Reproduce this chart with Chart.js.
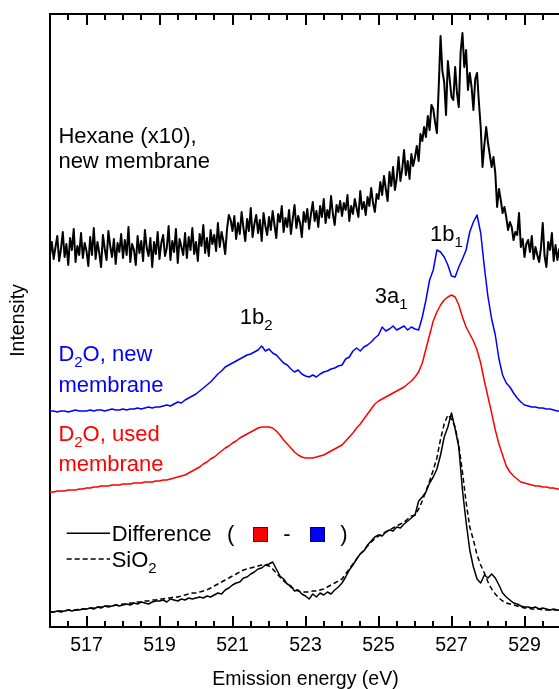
<!DOCTYPE html>
<html>
<head>
<meta charset="utf-8">
<script src="https://cdn.jsdelivr.net/npm/chart.js@4.4.1/dist/chart.umd.min.js"></script>
<style>
  html, body { margin: 0; padding: 0; overflow: hidden; background: #fff; }
  #wrap { width: 580px; height: 689px; }
</style>
</head>
<body>
<div id="wrap"><canvas id="spectra" width="580" height="689"></canvas></div>
<script>
// Emission spectra (stacked, arbitrary intensity units), energy axis in eV
const energyStartEV = 516;
const hexaneStepEV = 0.05;
const waterStepEV = 0.1;

// Hexane (x10), new membrane — sampled every 0.05 eV from 516 eV
const hexaneNew = [
  372, 385, 368, 380, 391, 366, 378, 395, 370, 383, 362, 389, 377, 398, 365, 381, 372, 394, 369, 384,
  376, 361, 390, 372, 399, 368, 385, 374, 360, 392, 378, 367, 396, 381, 370, 388, 363, 384, 375, 393,
  369, 387, 372, 400, 365, 383, 377, 362, 391, 374, 386, 366, 397, 379, 371, 389, 360, 385, 373, 395,
  368, 384, 392, 371, 379, 401, 367, 386, 375, 398, 364, 388, 380, 372, 394, 369, 390, 377, 399, 373,
  385, 366, 393, 381, 402, 374, 389, 371, 397, 383, 392, 376, 404, 380, 395, 386, 373, 398, 412, 407,
  396, 411, 388, 404, 393, 415, 399, 386, 408, 396, 419, 390, 403, 412, 394, 407, 386, 414, 401, 392,
  410, 397, 416, 402, 389, 413, 405, 421, 395, 409, 400, 417, 393, 408, 422, 399, 411, 404, 390, 415,
  405, 418, 398, 413, 425, 406, 416, 400, 421, 410, 428, 404, 417, 409, 431, 413, 402, 422, 415, 426,
  411, 424, 417, 432, 406, 421, 413, 428, 419, 410, 436, 418, 425, 412, 430, 421, 439, 424, 415, 433,
  428, 445, 432, 451, 438, 426, 455, 441, 460, 437, 449, 470, 446, 458, 477, 452, 466, 448, 473, 461,
  470, 481, 466, 493, 486, 500, 490, 511, 497, 522, 518, 505, 494, 540, 591, 556, 545, 512, 566, 548,
  530, 527, 560, 534, 520, 575, 594, 560, 577, 537, 554, 540, 517, 548, 554, 525, 500, 460, 482, 500,
  484, 472, 460, 470, 454, 420, 438, 427, 414, 420, 410, 397, 405, 400, 387, 395, 392, 414, 380, 388,
  370, 383, 387, 375, 391, 368, 380, 372, 365, 379, 404, 371, 360, 385, 377, 394, 366, 382, 367, 378,
  372
];

// D2O, new membrane — every 0.1 eV from 516 eV
const d2oNew = [
  216, 216, 215, 216, 216, 215, 216, 217, 216, 216,
  216, 217, 216, 217, 217, 216, 217, 218, 217, 217,
  218, 217, 218, 218, 219, 218, 219, 220, 219, 220,
  220, 221, 222, 221, 223, 225, 224, 227, 229, 231,
  233, 236, 239, 242, 245, 249, 253, 256, 260, 262,
  264, 266, 268, 270, 272, 273, 275, 277, 281, 276,
  278, 274, 272, 268, 264, 262, 258, 255, 257, 253,
  251, 250, 252, 250, 253, 255, 256, 258, 259, 261,
  262, 268, 270, 276, 279, 276, 280, 282, 285, 289,
  292, 300, 296, 298, 301, 297, 299, 301, 297, 300,
  298, 297, 310, 327, 347, 357, 377, 375, 370, 362,
  351, 350, 360, 368, 377, 395, 405, 412, 394, 360,
  330, 308, 292, 268, 252, 244, 240, 234, 229, 225,
  222, 221, 220, 220, 219, 219, 218, 218, 217, 216,
  216
];

// D2O, used membrane
const d2oUsed = [
  135, 135, 136, 136, 136, 137, 137, 137, 138, 138,
  139, 139, 140, 140, 141, 141, 141, 142, 142, 142,
  143, 143, 143, 144, 144, 144, 145, 145, 145, 146,
  146, 147, 147, 148, 149, 150, 151, 152, 154, 156,
  158, 160, 163, 165, 168, 170, 173, 176, 179, 181,
  184, 186, 189, 191, 193, 195, 197, 199, 200, 200,
  200, 199, 196, 192, 187, 183, 179, 175, 172, 170,
  169, 169, 169, 170, 171, 172, 174, 176, 178, 180,
  182, 186, 190, 194, 199, 203, 208, 213, 218, 223,
  226, 228, 230, 232, 234, 236, 238, 240, 243, 246,
  250, 255, 264, 278, 292, 306, 315, 322, 327, 330,
  332, 330, 322, 310, 300, 293, 286, 277, 264, 246,
  230, 214, 197, 183, 172, 161, 155, 151, 148, 145,
  144, 143, 142, 141, 141, 140, 140, 139, 139, 138,
  138
];

// Difference (used - new)
const difference = [
  15, 15, 16, 15, 16, 17, 16, 17, 17, 18,
  18, 19, 18, 20, 19, 21, 20, 21, 22, 21,
  22, 23, 22, 24, 23, 25, 24, 23, 25, 26,
  26, 27, 25, 28, 27, 26, 28, 27, 29, 28,
  29, 30, 29, 31, 30, 32, 34, 33, 37, 39,
  42, 44, 45, 49, 50, 53, 55, 58, 59, 62,
  63, 65, 58, 51, 48, 43, 41, 36, 37, 33,
  31, 28, 33, 30, 34, 32, 35, 33, 37, 40,
  44, 50, 57, 62, 68, 73, 76, 82, 86, 90,
  92, 91, 95, 97, 96, 100, 99, 103, 106, 109,
  112, 126, 130, 135, 144, 150, 158, 172, 190, 200,
  214, 198, 180, 137, 105, 77, 60, 48, 44, 52,
  49, 53, 49, 42, 34, 30, 27, 24, 23, 21,
  20, 20, 19, 20, 18, 19, 18, 17, 18, 17,
  17
];

// SiO2 reference
const sio2 = [
  15, 15, 16, 16, 16, 17, 17, 17, 18, 18,
  18, 19, 19, 20, 20, 21, 21, 21, 22, 22,
  23, 23, 24, 24, 25, 25, 26, 26, 27, 27,
  28, 28, 29, 29, 30, 30, 31, 32, 33, 34,
  34, 35, 36, 37, 39, 41, 43, 45, 47, 49,
  51, 53, 55, 57, 58, 59, 60, 61, 62, 62,
  61, 58, 54, 50, 46, 43, 40, 38, 36, 35,
  35, 35, 36, 36, 37, 38, 40, 42, 44, 46,
  48, 53, 58, 63, 68, 73, 77, 81, 85, 88,
  91, 93, 95, 97, 99, 101, 103, 105, 108, 111,
  112, 118, 126, 136, 146, 157, 169, 188, 203, 212,
  208, 200, 182, 155, 125, 100, 87, 72, 62, 54,
  45, 38, 33, 29, 26, 24, 23, 22, 21, 20,
  19, 19, 18, 18, 18, 17, 17, 17, 17, 17,
  17
];

const tickLabelsEV = [517, 519, 521, 523, 525, 527, 529];

const FONT = '"Liberation Sans", Arial, Helvetica, sans-serif';
const BLUE = '#0000ff';
const RED = '#ff0000';

const toPoints = (vals, step) => vals.map((v, i) => ({ x: energyStartEV + i * step, y: v }));

// Inward ticks on top and bottom, top frame line, curve labels and the legend
const framePlugin = {
  id: 'frameAndLabels',
  afterDraw(chart) {
    const { ctx, chartArea: a, scales: { x, y } } = chart;
    const px = e => x.getPixelForValue(e);
    const py = h => y.getPixelForValue(h);
    ctx.save();
    ctx.strokeStyle = '#000';
    ctx.lineWidth = 2;
    ctx.beginPath();
    ctx.moveTo(a.left - 1, a.top);
    ctx.lineTo(a.right + 1, a.top);
    ctx.stroke();
    for (let k = 0; k <= 28; k++) {
      const e = x.min + k * 0.5;
      const major = tickLabelsEV.includes(e);
      const len = major ? 11 : 6;
      const xp = Math.round(px(e));
      ctx.beginPath();
      ctx.moveTo(xp, a.bottom);
      ctx.lineTo(xp, a.bottom - len);
      ctx.moveTo(xp, a.top);
      ctx.lineTo(xp, a.top + len);
      ctx.stroke();
    }

    const size = 22, subSize = 15;
    const drawRuns = (xp, yp, runs, color) => {
      ctx.fillStyle = color;
      ctx.textBaseline = 'alphabetic';
      ctx.textAlign = 'left';
      let cx = xp;
      for (const r of runs) {
        ctx.font = `${r.sub ? subSize : size}px ${FONT}`;
        ctx.fillText(r.t, cx, yp + (r.sub ? 6 : 0));
        cx += ctx.measureText(r.t).width;
      }
    };
    const labels = [
      { e: 516.23, h: 484.3, c: '#000', runs: [{ t: 'Hexane (x10),' }] },
      { e: 516.23, h: 458.7, c: '#000', runs: [{ t: 'new membrane' }] },
      { e: 516.23, h: 266, c: BLUE, runs: [{ t: 'D' }, { t: '2', sub: true }, { t: 'O, new' }] },
      { e: 516.23, h: 235.3, c: BLUE, runs: [{ t: 'membrane' }] },
      { e: 516.23, h: 186.3, c: RED, runs: [{ t: 'D' }, { t: '2', sub: true }, { t: 'O, used' }] },
      { e: 516.23, h: 156.3, c: RED, runs: [{ t: 'membrane' }] },
      { e: 521.2, h: 303, c: '#000', runs: [{ t: '1b' }, { t: '2', sub: true }] },
      { e: 524.9, h: 324.3, c: '#000', runs: [{ t: '3a' }, { t: '1', sub: true }] },
      { e: 526.41, h: 386.3, c: '#000', runs: [{ t: '1b' }, { t: '1', sub: true }] }
    ];
    labels.forEach(l => drawRuns(px(l.e), py(l.h), l.runs, l.c));

    // legend
    ctx.lineWidth = 1.5;
    ctx.strokeStyle = '#000';
    ctx.beginPath();
    ctx.moveTo(px(516.457), py(93.7));
    ctx.lineTo(px(517.644), py(93.7));
    ctx.stroke();
    ctx.setLineDash([5, 3]);
    ctx.beginPath();
    ctx.moveTo(px(516.457), py(68));
    ctx.lineTo(px(517.644), py(68));
    ctx.stroke();
    ctx.setLineDash([]);
    drawRuns(px(517.69), py(86.3), [{ t: 'Difference' }], '#000');
    drawRuns(px(520.85), py(86.3), [{ t: '(' }], '#000');
    drawRuns(px(522.39), py(86.3), [{ t: '-' }], '#000');
    drawRuns(px(523.95), py(86.3), [{ t: ')' }], '#000');
    drawRuns(px(517.69), py(59.7), [{ t: 'SiO' }, { t: '2', sub: true }], '#000');
    const square = (e, fill, edge) => {
      const sx = Math.round(px(e)) + 0.5, sy = Math.round(py(99.7)) + 0.5;
      ctx.fillStyle = fill;
      ctx.fillRect(sx, sy, 14, 14);
      ctx.lineWidth = 1;
      ctx.strokeStyle = edge;
      ctx.strokeRect(sx, sy, 14, 14);
    };
    square(521.57, RED, '#7a0000');
    square(523.12, BLUE, '#00006e');
    ctx.restore();
  }
};

new Chart(document.getElementById('spectra'), {
  type: 'line',
  data: {
    datasets: [
      { label: 'Hexane (x10), new membrane', data: toPoints(hexaneNew, hexaneStepEV), borderColor: '#000', borderWidth: 2 },
      { label: 'D2O, new membrane', data: toPoints(d2oNew, waterStepEV), borderColor: BLUE, borderWidth: 1.5 },
      { label: 'D2O, used membrane', data: toPoints(d2oUsed, waterStepEV), borderColor: RED, borderWidth: 1.5 },
      { label: 'SiO2', data: toPoints(sio2, waterStepEV), borderColor: '#000', borderWidth: 1.5, borderDash: [5, 3] },
      { label: 'Difference', data: toPoints(difference, waterStepEV), borderColor: '#000', borderWidth: 1.5 }
    ]
  },
  options: {
    responsive: false,
    animation: false,
    devicePixelRatio: 1,
    parsing: false,
    layout: { padding: { top: 14, right: 19, bottom: 0, left: 0 } },
    plugins: { legend: { display: false }, tooltip: { enabled: false } },
    elements: { point: { radius: 0 }, line: { tension: 0, fill: false, borderJoinStyle: 'round' } },
    scales: {
      x: {
        type: 'linear', min: 516, max: 530,
        afterFit: s => { s.height = 62; },
        afterBuildTicks: s => { s.ticks = tickLabelsEV.map(v => ({ value: v })); },
        grid: { display: false, drawTicks: false },
        border: { display: true, color: '#000', width: 2 },
        ticks: { color: '#000', font: { family: FONT, size: 19.5 }, padding: 7, autoSkip: false, maxRotation: 0, callback: v => String(v) },
        title: { display: true, text: 'Emission energy (eV)', color: '#000', font: { family: FONT, size: 19.5, lineHeight: 1 }, padding: { top: 0, bottom: 0 } }
      },
      y: {
        type: 'linear', min: 0, max: 613,
        afterFit: s => { s.width = 50; },
        grid: { display: false, drawTicks: false },
        ticks: { display: false },
        border: { display: true, color: '#000', width: 2 },
        title: { display: true, text: 'Intensity', color: '#000', font: { family: FONT, size: 19.5, lineHeight: 1 }, padding: { top: 9, bottom: 0 } }
      }
    }
  },
  plugins: [framePlugin]
});
</script>
</body>
</html>
